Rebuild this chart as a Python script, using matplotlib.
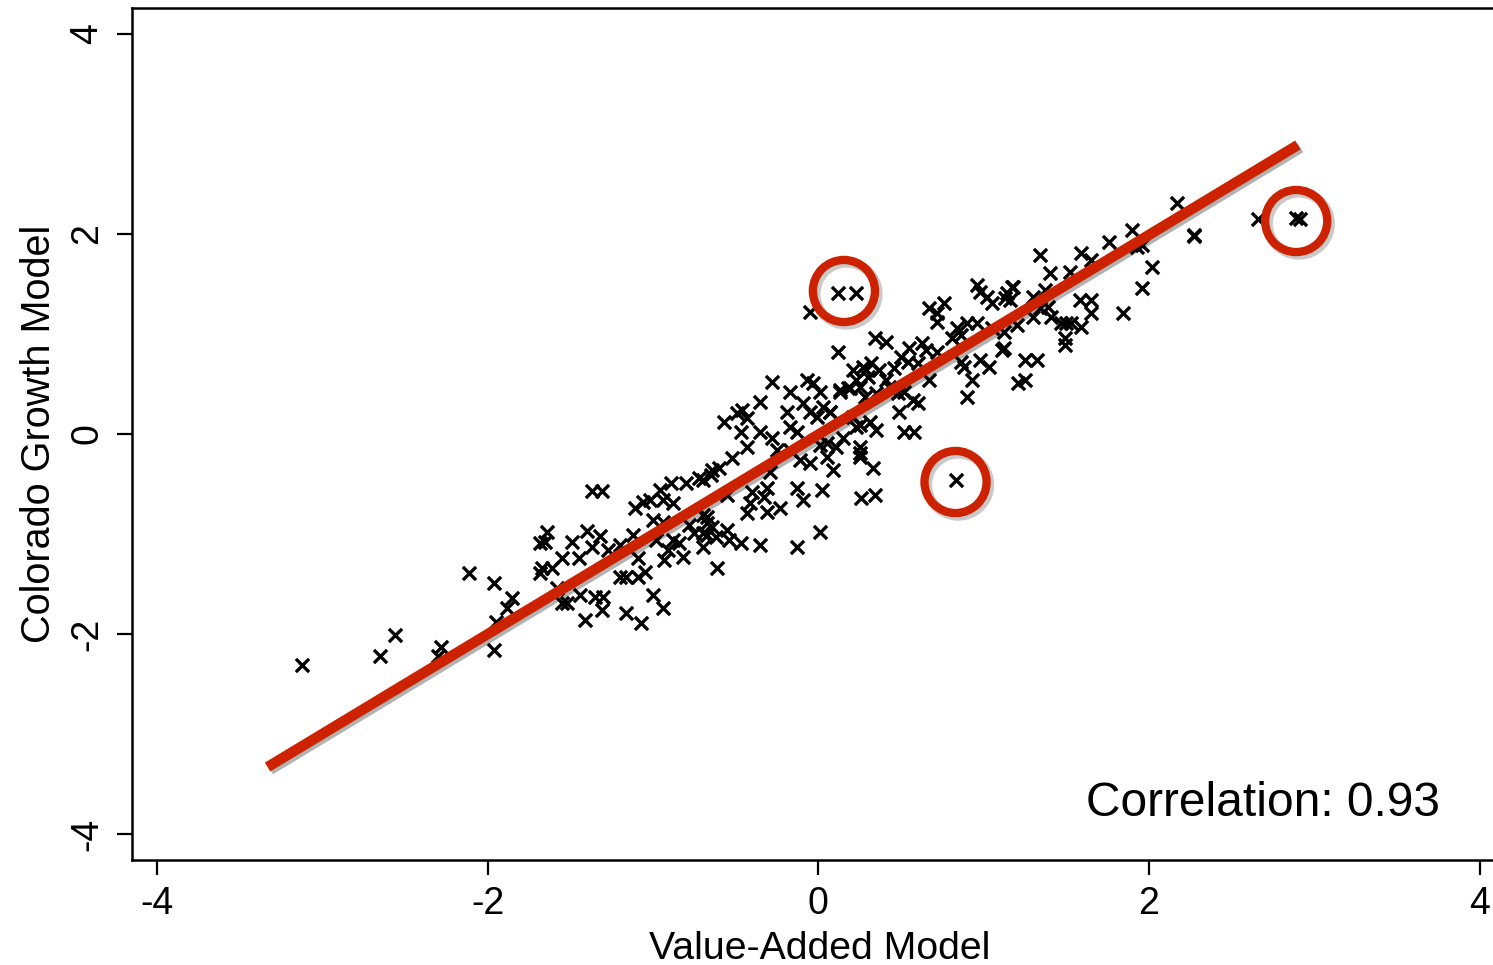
#!/usr/bin/env python3
"""Value-added vs Colorado growth model scatter."""
import matplotlib
matplotlib.use('Agg')
import matplotlib.pyplot as plt
import matplotlib.patheffects as pe

plt.rcParams['font.family'] = ['Liberation Sans', 'DejaVu Sans']
plt.rcParams['axes.unicode_minus'] = False

# Scatter data (value-added estimate, growth model estimate)
va_scores = [
    -3.12, -2.65, -2.56, -2.28, -2.30, -2.11, -1.96, -1.96, -1.88, -1.85, -1.95, -1.68, -1.68,
    -1.37, -1.31, -1.64, -1.65, -1.49, -1.40, -1.32, -1.37, -1.55, -1.45, -1.67, -1.61, -1.58,
    -1.44, -1.55, -1.52, -1.35, -1.30, -1.31, -1.41, -1.20, -1.16, -1.09, -1.05, -1.09, -1.12,
    -1.20, -1.27, -1.00, -0.94, -1.16, -1.07, -1.11, -1.06, -1.02, -0.96, -0.89, -0.94, -0.88,
    -1.00, -0.94, -0.98, -0.88, -0.84, -0.91, -0.82, -0.93, -0.80, -0.72, -0.64, -0.78, -0.70,
    -0.67, -0.75, -0.67, -0.70, -0.61,
    -0.28, -0.17, -0.07, -0.03, 0.01, -0.35, -0.57, -0.49, -0.46, -0.43, -0.19, -0.09, -0.05,
    -0.01, 0.07, 0.13, 0.19, 0.23, 0.29, -0.47, -0.35, -0.43, -0.28, -0.17, -0.13, -0.25, -0.17,
    -0.11, -0.05, 0.01, 0.11, 0.05, 0.09, 0.15, 0.23, 0.25, 0.25, 0.33, 0.26, 0.34, -0.52, -0.60,
    -0.65, -0.70, -0.55, -0.29, -0.31, -0.13, -0.09, 0.02, -0.40, -0.41, -0.43, -0.33, -0.31,
    -0.23, -0.67, -0.64, -0.55, -0.70, -0.62, -0.54, -0.47, -0.35, -0.13, 0.01,
    0.12, 0.23, -0.05, 0.12, 0.34, 0.41, 0.67, 0.76, 0.72, 0.72, 0.96, 0.98, 1.02, 1.05, 1.14,
    1.16, 1.18, 0.84, 0.90, 0.96, 0.86, 0.81, 1.05, 1.11, 0.63, 0.65, 0.55, 0.50, 0.54, 0.60,
    0.72, 0.86, 0.88, 0.98, 1.03, 0.93, 0.90, 0.67, 0.21, 0.27, 0.32, 0.37, 0.30, 0.41, 0.46,
    0.13, 0.18, 0.25, 0.28, 0.35, 0.43, 0.48, 0.52, 0.57, 0.60, 0.49, 0.03, 0.07, 0.21, 0.25,
    0.31, 0.35, 0.52, 0.58, 0.25, 0.05, 1.21, 0.83,
    1.90, 1.76, 1.93, 1.96, 2.27, 2.02, 1.96, 1.84, 1.59, 1.65, 1.34, 1.40, 1.52, 1.17, 1.13,
    1.30, 1.37, 1.34, 1.39, 1.30, 1.41, 1.20, 1.12, 1.58, 1.65, 1.65, 1.47, 1.50, 1.53, 1.59,
    1.49, 1.49, 1.12, 1.25, 1.32, 1.25,
    2.17, 2.27, 2.66, 2.89, 2.91,
]
growth_scores = [
    -2.31, -2.22, -2.01, -2.13, -2.22, -1.39, -1.49, -2.16, -1.74, -1.64, -1.88, -1.09, -1.39,
    -0.57, -0.57, -0.98, -1.08, -1.08, -0.97, -1.02, -1.13, -1.24, -1.24, -1.34, -1.34, -1.54,
    -1.61, -1.69, -1.69, -1.63, -1.63, -1.76, -1.86, -1.43, -1.43, -1.43, -1.38, -1.24, -1.01,
    -1.11, -1.16, -1.61, -1.74, -1.79, -1.89, -0.74, -0.68, -0.66, -0.56, -0.49, -0.66, -0.69,
    -0.86, -0.88, -1.06, -1.06, -1.09, -1.16, -1.23, -1.26, -0.49, -0.44, -0.36, -0.91, -0.81,
    -0.89, -0.99, -1.01, -1.13, -1.34,
    0.52, 0.42, 0.54, 0.51, 0.42, 0.32, 0.12, 0.21, 0.24, 0.16, 0.22, 0.31, 0.22,
    0.17, 0.22, 0.42, 0.46, 0.54, 0.64, 0.02, 0.02, -0.13, -0.04, 0.07, 0.02, -0.16, -0.16,
    -0.26, -0.29, -0.11, -0.13, -0.23, -0.36, -0.04, 0.07, -0.13, -0.23, -0.34, -0.64, -0.61, -0.24, -0.34,
    -0.41, -0.46, -0.61, -0.38, -0.54, -0.54, -0.66, -0.56, -0.58, -0.69, -0.79, -0.63, -0.78,
    -0.74, -0.83, -0.93, -0.96, -0.99, -1.03, -1.06, -1.09, -1.11, -1.13, -0.98,
    1.41, 1.41, 1.22, 0.82, 0.96, 0.92, 1.26, 1.31, 1.21, 1.12, 1.49, 1.42, 1.37, 1.31, 1.41,
    1.34, 1.47, 1.06, 1.11, 1.11, 0.99, 0.96, 1.06, 0.84, 0.91, 0.84, 0.86, 0.77, 0.72, 0.71,
    0.82, 0.72, 0.67, 0.74, 0.67, 0.54, 0.37, 0.54, 0.64, 0.67, 0.71, 0.64, 0.57, 0.54, 0.66,
    0.44, 0.46, 0.47, 0.37, 0.41, 0.47, 0.41, 0.42, 0.34, 0.31, 0.22, 0.27, 0.22, 0.17, 0.09,
    0.12, 0.04, 0.02, 0.02, -0.19, -0.09, 0.51, -0.46,
    2.04, 1.92, 1.87, 1.89, 1.99, 1.67, 1.46, 1.21, 1.81, 1.74, 1.79, 1.61, 1.62, 1.47, 1.36,
    1.37, 1.44, 1.26, 1.27, 1.17, 1.17, 1.09, 1.02, 1.34, 1.34, 1.21, 1.11, 1.11, 1.11, 1.07,
    0.96, 0.89, 0.86, 0.74, 0.74, 0.54,
    2.31, 1.98, 2.15, 2.16, 2.15,
]

# Fitted line end points
fit_x = [-3.33, 2.90]
fit_y = [-3.33, 2.89]

# Highlighted outliers
circle_x = [0.155, 0.83, 2.89]
circle_y = [1.43, -0.48, 2.13]

RED = '#cc2200'

fig = plt.figure(figsize=(14.93, 9.65), dpi=100)
ax = fig.add_axes([132 / 1493, 105 / 965, 1 - 132 / 1493, 852 / 965])

ax.scatter(va_scores, growth_scores, marker='x', s=90, color='black', linewidths=2.4, zorder=2)
ax.plot(fit_x, fit_y, color=RED, linewidth=7.5, solid_capstyle='butt', zorder=3,
        path_effects=[pe.SimpleLineShadow(offset=(2, -2), alpha=0.3), pe.Normal()])
ring_shadow = [pe.Stroke(offset=(2, -2), linewidth=7, foreground='#888888', alpha=0.45),
               pe.Normal()]
ax.scatter(circle_x, circle_y, marker='o', s=2000, facecolors='none', edgecolors=RED,
           linewidths=6, zorder=4, path_effects=ring_shadow)

ax.text(3.76, -3.82, 'Correlation: 0.93', ha='right', va='baseline', fontsize=34.5)

ax.set_xlim(-4.15, 4.08)
ax.set_ylim(-4.26, 4.26)
ax.set_xticks([-4, -2, 0, 2, 4])
ax.set_yticks([-4, -2, 0, 2, 4])
ax.set_yticklabels(['-4', '-2', '0', '2', '4'], rotation=90, va='center')
ax.tick_params(axis='both', length=11, width=1.6, labelsize=27, pad=8)

ax.set_xlabel('Value-Added Model', fontsize=28.3, labelpad=3)
ax.xaxis.set_label_coords(0.505, -0.083)
ax.xaxis.label.set_va('top')
ax.set_ylabel('Colorado Growth Model', fontsize=28.5, labelpad=8)

ax.spines['right'].set_visible(False)
for side in ('left', 'top', 'bottom'):
    ax.spines[side].set_linewidth(1.8)

fig.savefig('out.png', dpi=100, facecolor='white')
